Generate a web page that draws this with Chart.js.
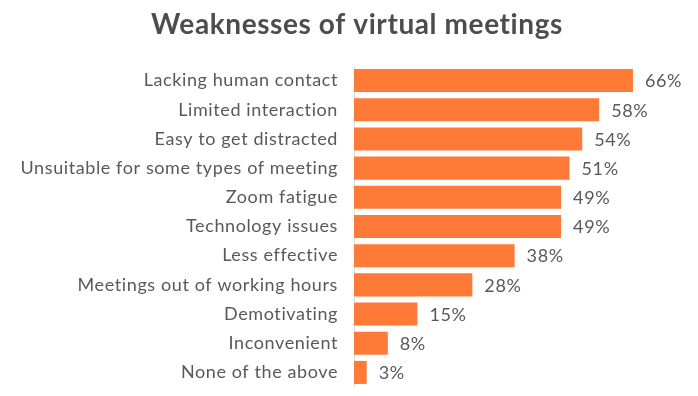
<!DOCTYPE html>
<html>
<head>
<meta charset="utf-8">
<script src="https://cdn.jsdelivr.net/npm/chart.js@4.4.1/dist/chart.umd.min.js"></script>
<style>
html,body{margin:0;padding:0;background:#fff;}
#wrap{width:698px;height:396px;position:relative;}
</style>
</head>
<body>
<div id="wrap"><canvas id="c" width="698" height="396"></canvas></div>
<script>
const categories = [
  "Lacking human contact",
  "Limited interaction",
  "Easy to get distracted",
  "Unsuitable for some types of meeting",
  "Zoom fatigue",
  "Technology issues",
  "Less effective",
  "Meetings out of working hours",
  "Demotivating",
  "Inconvenient",
  "None of the above"
];
const values = [66, 58, 54, 51, 49, 49, 38, 28, 15, 8, 3];
const titleText = "Weaknesses of virtual meetings";

const textColor = "#595959";
const barColor = "#FF7A37";

const spacing = {
  id: "spacing",
  beforeDraw(chart) { chart.ctx.letterSpacing = "0.6px"; }
};

const titlePlugin = {
  id: "titlePlugin",
  afterDraw(chart) {
    const ctx = chart.ctx;
    ctx.save();
    ctx.letterSpacing = "0.6px";
    ctx.font = "bold 28px Lato";
    ctx.fillStyle = "#4D4D4D";
    ctx.textAlign = "center";
    ctx.textBaseline = "middle";
    ctx.fillText(titleText, 357, 25);
    ctx.restore();
  }
};

const valueLabels = {
  id: "valueLabels",
  afterDatasetsDraw(chart) {
    const ctx = chart.ctx;
    const meta = chart.getDatasetMeta(0);
    ctx.save();
    ctx.letterSpacing = "0.6px";
    ctx.font = "18px Lato";
    ctx.fillStyle = textColor;
    ctx.textAlign = "left";
    ctx.textBaseline = "middle";
    meta.data.forEach((bar, i) => {
      ctx.fillText(values[i] + "%", bar.x + 12, bar.y + 1);
    });
    ctx.restore();
  }
};

new Chart(document.getElementById("c"), {
  type: "bar",
  data: {
    labels: categories,
    datasets: [{
      data: values,
      backgroundColor: barColor,
      borderWidth: 0,
      barPercentage: 0.79,
      categoryPercentage: 1.0
    }]
  },
  options: {
    indexAxis: "y",
    responsive: false,
    animation: false,
    devicePixelRatio: 1,
    layout: { padding: { top: 66, right: 27, bottom: 9, left: 0 } },
    plugins: {
      legend: { display: false },
      tooltip: { enabled: false },
      title: { display: false }
    },
    scales: {
      x: {
        display: false,
        min: 0,
        max: 75
      },
      y: {
        afterFit(axis) { axis.width = 354; axis.paddingTop = 0; axis.paddingBottom = 0; },
        grid: { display: false, drawTicks: false },
        border: { display: true, color: "#E3E3E3", width: 1 },
        ticks: {
          color: textColor,
          font: { family: "Lato", size: 18 },
          padding: 16
        }
      }
    }
  },
  plugins: [spacing, valueLabels, titlePlugin]
});
</script>
</body>
</html>
